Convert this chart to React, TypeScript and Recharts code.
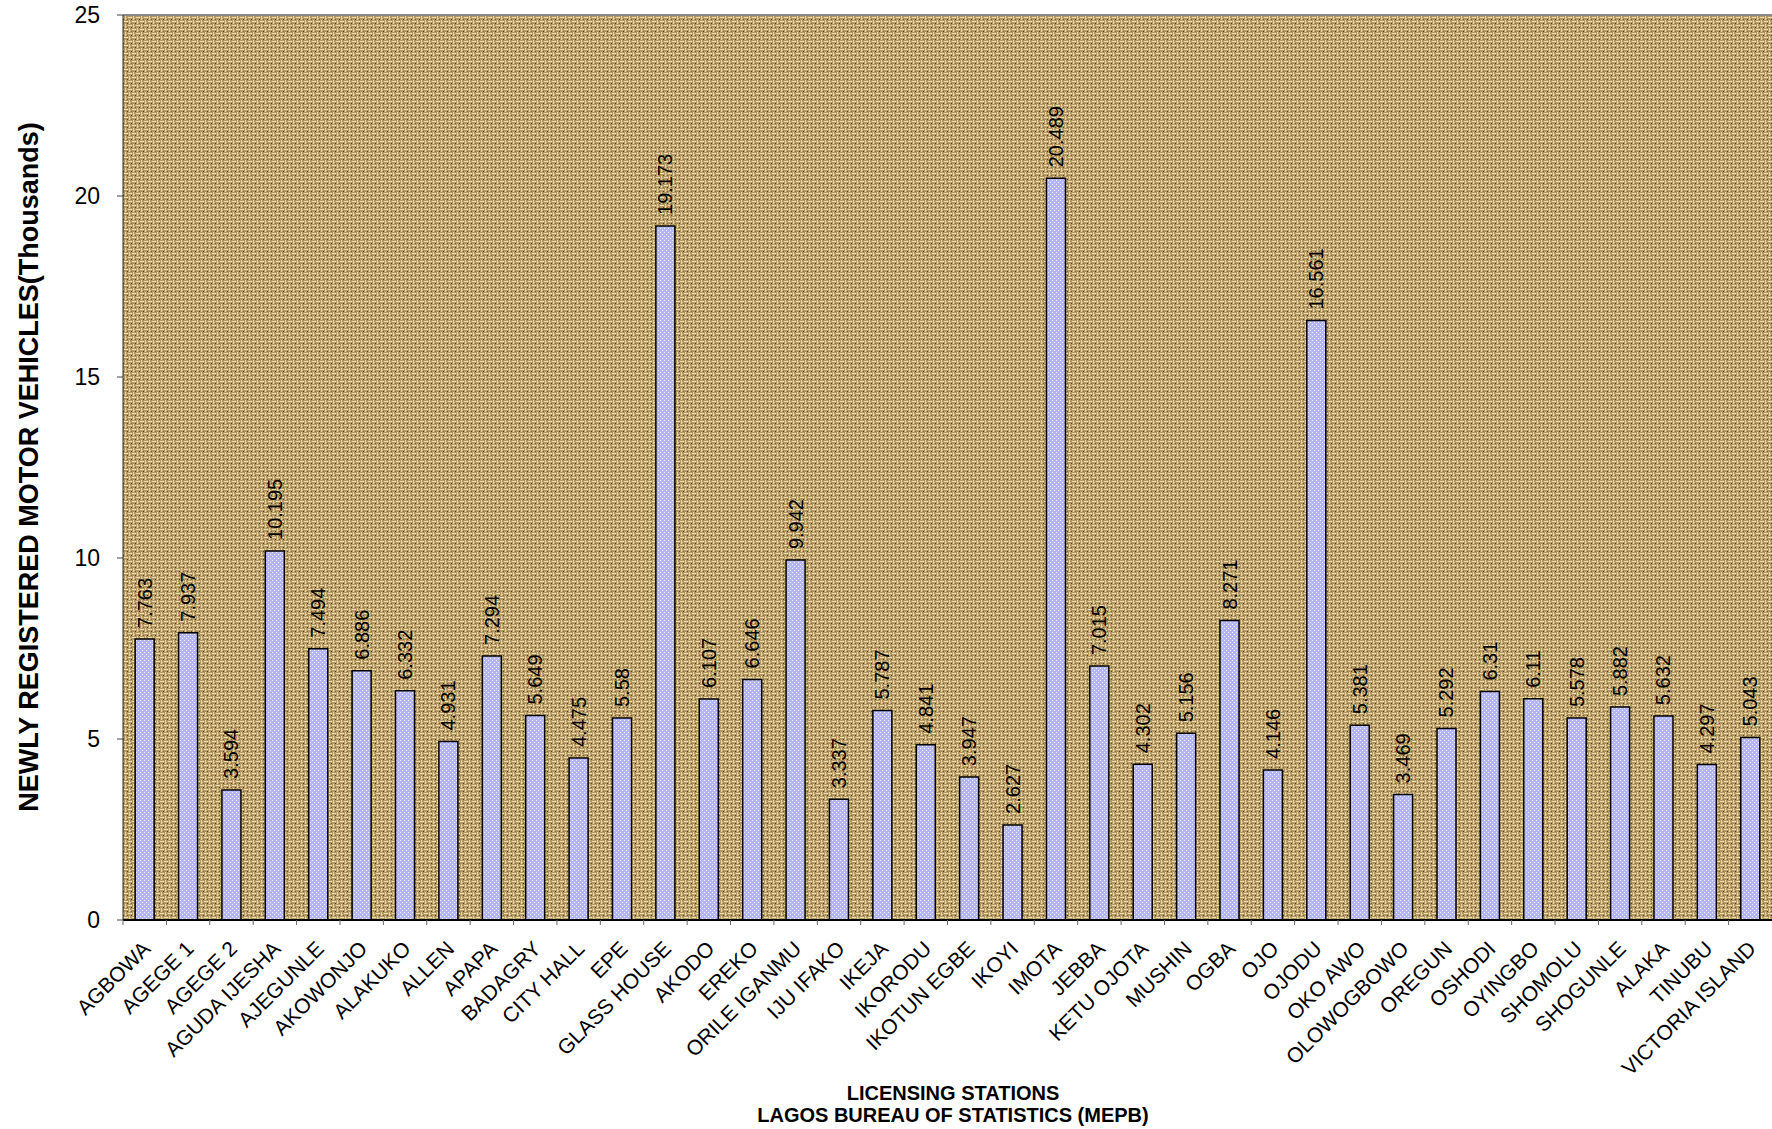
import React from 'react';
import {
  BarChart,
  Bar,
  XAxis,
  YAxis,
  CartesianGrid,
  LabelList,
  ReferenceLine
} from 'recharts';

// licensing stations, left to right
const stations = [
  'AGBOWA', 'AGEGE 1', 'AGEGE 2', 'AGUDA IJESHA', 'AJEGUNLE', 'AKOWONJO',
  'ALAKUKO', 'ALLEN', 'APAPA', 'BADAGRY', 'CITY HALL', 'EPE', 'GLASS HOUSE',
  'AKODO', 'EREKO', 'ORILE IGANMU', 'IJU IFAKO', 'IKEJA', 'IKORODU',
  'IKOTUN EGBE', 'IKOYI', 'IMOTA', 'JEBBA', 'KETU OJOTA', 'MUSHIN', 'OGBA',
  'OJO', 'OJODU', 'OKO AWO', 'OLOWOGBOWO', 'OREGUN', 'OSHODI', 'OYINGBO',
  'SHOMOLU', 'SHOGUNLE', 'ALAKA', 'TINUBU', 'VICTORIA ISLAND'
];

// newly registered vehicles (thousands)
const vehicles = [
  7.763, 7.937, 3.594, 10.195, 7.494, 6.886,
  6.332, 4.931, 7.294, 5.649, 4.475, 5.58, 19.173,
  6.107, 6.646, 9.942, 3.337, 5.787, 4.841,
  3.947, 2.627, 20.489, 7.015, 4.302, 5.156, 8.271,
  4.146, 16.561, 5.381, 3.469, 5.292, 6.31, 6.11,
  5.578, 5.882, 5.632, 4.297, 5.043
];

const yTicks = [0, 5, 10, 15, 20, 25];

const yTitle = 'NEWLY REGISTERED MOTOR VEHICLES(Thousands)';
const xTitle = ['LICENSING STATIONS', 'LAGOS BUREAU OF STATISTICS (MEPB)'];

const data = stations.map((name, i) => ({ name, value: vehicles[i] }));

const W = 1772;
const H = 1129;
const PLOT_LEFT = 123;
const BAND = (W - PLOT_LEFT) / stations.length;
const FONT = '"Liberation Sans", Arial, sans-serif';

// Excel style: tick marks between categories, label hangs off the centre
const StationTick = (props: any) => {
  const { x, y, payload } = props;
  const edge = x - BAND / 2;
  const tx = x + 7;
  const ty = y + 30;
  return (
    <g>
      <line x1={edge} y1={y} x2={edge} y2={y + 5} stroke="#666" strokeWidth={1} />
      <text
        x={tx}
        y={ty}
        transform={`rotate(-45, ${tx}, ${ty})`}
        textAnchor="end"
        fontSize={21}
        fontFamily={FONT}
        fill="#000"
      >
        {payload.value}
      </text>
    </g>
  );
};

const ValueLabel = (props: any) => {
  const { x, y, width, value } = props;
  const cx = x + width / 2;
  const ty = y - 11;
  return (
    <text
      x={cx}
      y={ty}
      transform={`rotate(-90, ${cx}, ${ty})`}
      textAnchor="start"
      dominantBaseline="central"
      fontSize={20}
      fontFamily={FONT}
      fill="#000"
    >
      {value}
    </text>
  );
};

// burlap-ish weave for the plot area, dotted lavender for the bars
const Patterns = () => (
  <svg width={0} height={0} style={{ position: 'absolute' }}>
    <defs>
      <pattern id="burlap" width={8} height={8} patternUnits="userSpaceOnUse">
        <rect width={8} height={8} fill="#b39763" />
        <rect x={0} y={1} width={4} height={1} fill="#f2e2b0" />
        <rect x={4} y={5} width={4} height={1} fill="#f2e2b0" />
        <rect x={5} y={0} width={1} height={4} fill="#e6d09c" />
        <rect x={1} y={4} width={1} height={4} fill="#e6d09c" />
        <rect x={3} y={3} width={1} height={1} fill="#4e3819" />
        <rect x={7} y={7} width={1} height={1} fill="#5a4220" />
        <rect x={3} y={7} width={1} height={1} fill="#7d6131" />
        <rect x={7} y={3} width={1} height={1} fill="#7d6131" />
        <rect x={2} y={6} width={1} height={1} fill="#d8c38d" />
        <rect x={6} y={2} width={1} height={1} fill="#d8c38d" />
      </pattern>
      <pattern id="lavender" width={4} height={4} patternUnits="userSpaceOnUse">
        <rect width={4} height={4} fill="#b5b5ff" />
        <rect x={0} y={0} width={1} height={1} fill="#f0f0ff" />
        <rect x={2} y={2} width={1} height={1} fill="#f0f0ff" />
      </pattern>
    </defs>
  </svg>
);

export default function App() {
  return (
    <div style={{ position: 'absolute', left: 0, top: 0, width: W, height: H, background: '#fff' }}>
      <Patterns />
      <BarChart
        width={W}
        height={H}
        data={data}
        margin={{ top: 15, right: 0, bottom: 0, left: 0 }}
        barCategoryGap="28%"
      >
        <CartesianGrid fill="url(#burlap)" stroke="none" horizontal={false} vertical={false} />
        <XAxis
          dataKey="name"
          interval={0}
          height={209}
          tickSize={0}
          tickMargin={0}
          tickLine={false}
          tick={<StationTick />}
          axisLine={{ stroke: '#000', strokeWidth: 2 }}
        />
        <YAxis
          width={123}
          domain={[0, 25]}
          ticks={yTicks}
          tickSize={6}
          tickMargin={17}
          tick={{ fontSize: 23, fill: '#000', fontFamily: FONT }}
          tickLine={{ stroke: '#444' }}
          axisLine={{ stroke: '#333' }}
        />
        <ReferenceLine y={25} stroke="#888" strokeWidth={2} />
        <Bar
          dataKey="value"
          fill="url(#lavender)"
          stroke="#000"
          strokeWidth={1.5}
          isAnimationActive={false}
        >
          <LabelList dataKey="value" content={<ValueLabel />} />
        </Bar>
      </BarChart>
      <svg
        width={W}
        height={H}
        style={{ position: 'absolute', left: 0, top: 0, pointerEvents: 'none' }}
      >
        <text
          x={29}
          y={467}
          transform="rotate(-90, 29, 467)"
          textAnchor="middle"
          dominantBaseline="central"
          fontSize={27}
          fontWeight="bold"
          fontFamily={FONT}
          fill="#000"
        >
          {yTitle}
        </text>
        {xTitle.map((line, i) => (
          <text
            key={line}
            x={953}
            y={1100 + i * 22}
            textAnchor="middle"
            fontSize={20}
            fontWeight="bold"
            fontFamily={FONT}
            fill="#000"
          >
            {line}
          </text>
        ))}
      </svg>
    </div>
  );
}
